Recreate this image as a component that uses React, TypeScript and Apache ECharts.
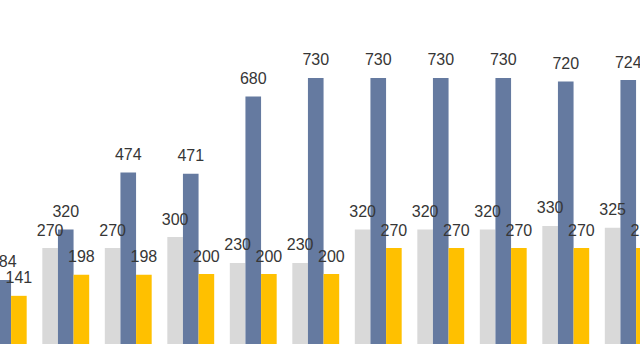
import React, { useEffect, useRef } from "react";
import * as echarts from "echarts";

const categories = ["1", "2", "3", "4", "5", "6", "7", "8", "9", "10", "11"];
const greyValues = [260, 270, 270, 300, 230, 230, 320, 320, 320, 330, 325];
const blueValues = [184, 320, 474, 471, 680, 730, 730, 730, 730, 720, 724];
const yellowValues = [141, 198, 198, 200, 200, 200, 270, 270, 270, 270, 270];

export default function App() {
  const ref = useRef<HTMLDivElement>(null);

  useEffect(() => {
    if (!ref.current) return;
    const chart = echarts.init(ref.current, undefined, { renderer: "svg" });
    const label = {
      show: true,
      position: "top" as const,
      distance: 10,
      fontSize: 16,
      fontFamily: "'Liberation Sans', Arial, sans-serif",
      color: "#363636",
    };
    const greyData = greyValues.map((v, i) =>
      i === 0 ? { value: v, label: { offset: [-4, 0] } } : v
    );
    chart.setOption({
      animation: false,
      backgroundColor: "transparent",
      grid: { left: 12, width: 687.5, top: 52, height: 296, containLabel: false },
      xAxis: {
        type: "category",
        data: categories,
        show: false,
      },
      yAxis: {
        type: "value",
        min: 0,
        max: 800,
        show: false,
        splitLine: { show: false },
      },
      series: [
        {
          type: "bar",
          data: greyData,
          barGap: "0%",
          barCategoryGap: "25%",
          itemStyle: { color: "#d9d9d9" },
          label,
        },
        {
          type: "bar",
          data: blueValues,
          barGap: "0%",
          barCategoryGap: "25%",
          itemStyle: { color: "#657aa0" },
          label,
        },
        {
          type: "bar",
          data: yellowValues,
          barGap: "0%",
          barCategoryGap: "25%",
          itemStyle: { color: "#ffc000" },
          label,
        },
      ],
    });
    return () => chart.dispose();
  }, []);

  return (
    <div
      style={{
        position: "fixed",
        left: 0,
        top: 0,
        width: 640,
        height: 344,
        overflow: "hidden",
        background: "#ffffff",
      }}
    >
      <div
        ref={ref}
        style={{ position: "absolute", left: -40, top: 0, width: 740, height: 400 }}
      />
    </div>
  );
}
